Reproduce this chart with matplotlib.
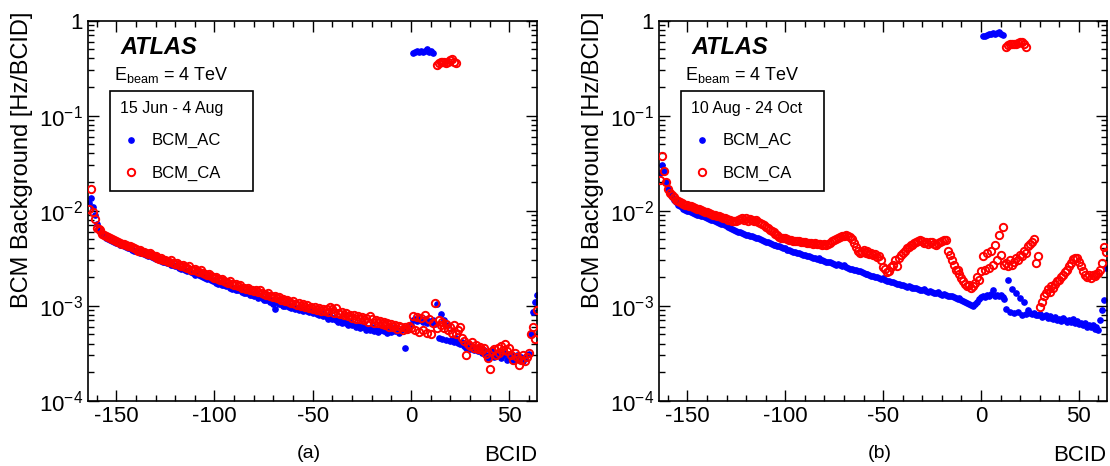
import numpy as np
import matplotlib
matplotlib.use("Agg")
import matplotlib.pyplot as plt
from matplotlib.lines import Line2D
from matplotlib.ticker import MultipleLocator, FixedLocator, FixedFormatter, LogLocator, NullFormatter

plt.rcParams['font.family'] = ['Liberation Sans', 'DejaVu Sans']
plt.rcParams['mathtext.fontset'] = 'custom'
plt.rcParams['mathtext.rm'] = 'Liberation Sans'
plt.rcParams['mathtext.it'] = 'Liberation Sans:italic'
plt.rcParams['mathtext.bf'] = 'Liberation Sans:bold'
plt.rcParams['axes.unicode_minus'] = False

# BCID axis, one entry per bunch crossing from -164 to 64
bcid = np.arange(-164, 65)

# background rates in units of 1e-4 Hz/BCID
# (a) 15 Jun - 4 Aug
ac_a = [120, 135, 110, 90, 72, 64, 60, 57, 54, 52,
        50, 49, 48.5, 47, 46, 45.5, 44, 43, 42.5, 41,
        40.5, 40, 39, 38, 37.5, 38, 36, 35.5, 35, 34,
        33.5, 34, 32.5, 32, 31, 31.5, 30, 29.5, 29, 28.5,
        28, 28.5, 27, 26.5, 26, 26.5, 25, 24.5, 25, 24,
        23, 23.5, 22.5, 22, 21, 22, 21, 20.5, 20, 19.5,
        19, 20, 18.5, 18, 18.5, 17.5, 17, 17.5, 16.5, 16.5,
        16, 16.5, 15.5, 15, 15.5, 14.5, 14.5, 15, 14, 13.5,
        13.5, 14, 13, 13, 12.5, 13, 12, 12.5, 12, 11.5,
        11.5, 12, 11, 11.5, 10.5, 9.3, 11, 10.5, 10.5, 10,
        10, 10.5, 9.7, 9.5, 10, 9.2, 9.5, 9, 9.3, 8.8,
        9, 8.7, 8.5, 9, 8.3, 8.5, 8.2, 8, 8.3, 7.8,
        7.9, 7.6, 7.3, 7.8, 7.2, 7.4, 7, 6.8, 7.2, 6.6,
        6.8, 6.5, 6.3, 6.7, 6.2, 6.4, 6, 6.3, 5.8, 5.9,
        6.1, 5.6, 5.8, 5.5, 5.9, 5.4, 5.7, 5.3, 5.6, 5.5,
        5.4, 5.7, 5.2, 5.6, 5.3, 5.8, 5.4, 5.5, 5.2, 5.6,
        5.8, 3.6, 5.5, 5.9, 6.2, 7.0, 7.3, 6.9, 7.4, 7.1,
        6.8, 7.2, 6.6, 6.9, 6.5, 7.0, 6.4, 10.4, 4.6, 8.2,
        4.5, 7.0, 4.4, 6.2, 4.3, 4.5, 4.2, 4.6, 4.1, 4.0,
        4.2, 3.8, 3.6, 4.0, 3.5, 3.7, 3.4, 3.6, 3.3, 3.5,
        3.2, 3.4, 3.0, 2.8, 3.1, 3.3, 2.9, 3.2, 3.0, 3.1,
        2.8, 3.0, 3.2, 2.7, 2.9, 3.1, 2.6, 2.8, 3.0, 2.7,
        2.9, 2.6, 2.8, 3.0, 3.1, 5.0, 8.5, 11.0, 13.0]
ca_a = [105, 170, 97, 82, 66, 64, 62, 57, 55, 54,
        53, 51, 50, 49, 48, 47, 46, 45, 44.5, 43,
        42, 42.5, 41, 40, 39.5, 38, 39, 37, 36.5, 36,
        35, 35.5, 34, 33, 33.5, 32, 31, 31.5, 30.5, 30,
        29.5, 29, 30, 28, 27.5, 28, 27, 26, 26.5, 25.5,
        25, 26, 24, 23.5, 24.5, 23, 22.5, 23.5, 22, 21.5,
        21, 21.5, 20.5, 20, 19.5, 20, 19, 18.5, 19, 18,
        17.8, 17.5, 18, 17, 16.5, 17, 16, 16.5, 15.5, 15.5,
        15, 15.5, 14.5, 14.8, 14.2, 14.6, 13.8, 14.5, 13.5, 13.2,
        13, 13.5, 12.5, 12.8, 12.2, 12.6, 12, 12.3, 11.5, 11.8,
        11.2, 11.5, 11, 10.8, 11.2, 10.5, 10.2, 10.6, 10, 10.4,
        9.8, 10.2, 9.5, 9.7, 9.3, 9.6, 9.1, 9.4, 8.9, 9.2,
        8.8, 9.2, 8.6, 9.6, 9.3, 8.4, 9.5, 8.3, 8.1, 8.5,
        7.9, 8.3, 7.7, 8.0, 7.5, 7.9, 7.3, 7.8, 7.2, 7.6,
        7.0, 7.5, 6.8, 7.8, 7.3, 6.6, 7.1, 6.5, 6.9, 6.4,
        6.7, 6.2, 6.6, 6.0, 6.4, 5.9, 6.3, 5.7, 6.1, 5.9,
        5.6, 6.0, 5.7, 6.1, 5.8, 7.8, 5.5, 7.6, 5.3, 7.4,
        5.6, 8.0, 5.2, 7.2, 5.0, 6.5, 10.8, 5.8, 7.0, 6.2,
        6.8, 5.8, 6.4, 5.5, 6.0, 5.2, 6.3, 5.0, 5.5, 6.0,
        4.6, 4.3, 3.0, 4.0, 3.8, 4.2, 3.6, 3.9, 3.5, 3.7,
        3.4, 3.6, 3.1, 2.8, 2.15, 3.3, 3.5, 3.0, 3.6, 3.2,
        3.8, 3.4, 4.0, 3.3, 3.6, 3.0, 2.7, 3.2, 2.9, 2.4,
        2.7, 3.0, 2.6, 2.9, 3.2, 5.0, 6.0, 4.5, 9.0]

# (b) 10 Aug - 24 Oct
ac_b = [250, 300, 260, 200, 170, 155, 140, 130, 122, 115,
        112, 108, 105, 102, 100, 98, 96, 95, 93, 91,
        90, 88, 87, 85, 84, 82, 80, 79, 77, 76,
        75, 73, 72, 70, 69, 67, 66, 64, 63, 61,
        60, 59, 58, 57, 56, 55, 54.5, 53.5, 52.5, 51.5,
        51, 50, 49, 48, 47, 46.5, 45.5, 45, 44, 43,
        42.5, 42, 41, 40.5, 40, 39, 38.5, 38, 37, 36.5,
        36, 35.5, 35, 34.5, 34, 33.5, 33, 32.5, 32, 31.5,
        31, 31.5, 30.5, 30, 29.5, 29, 28.5, 28.5, 28, 27.5,
        27, 27.5, 26.5, 26, 26.5, 25.5, 25, 24.5, 24.5, 24,
        23.5, 23, 23, 22.5, 22, 21.5, 21.5, 21, 20.5, 20.5,
        20, 19.8, 19.5, 19.2, 19.5, 18.8, 18.4, 18.0, 17.6, 17.8,
        17.3, 17.0, 16.8, 16.5, 16.6, 16.2, 15.9, 16.1, 15.7, 15.4,
        15.2, 15.5, 15.0, 14.8, 14.6, 14.9, 14.3, 14.1, 14.4, 13.9,
        13.7, 13.5, 13.8, 13.3, 13.1, 13.4, 12.9, 12.7, 12.5, 12.8,
        12.3, 12.1, 11.8, 12.0, 11.5, 11.3, 11.0, 10.8, 10.5, 10.2,
        10.0, 10.4, 11.0, 11.8, 12.2, 12.8, 12.4, 13.0, 12.6, 13.2,
        14.5, 12.8, 13.1, 12.5, 13.0, 12.2, 11.8, 9.2, 18.8, 8.5,
        15.0, 8.3, 13.5, 8.6, 12.0, 8.0, 11.0, 8.2, 9.0, 8.3,
        8.1, 8.4, 7.9, 8.0, 8.2, 7.6, 7.8, 8.0, 7.4, 7.7,
        7.5, 7.2, 7.6, 7.0, 7.3, 6.9, 7.4, 7.1, 6.8, 7.0,
        6.7, 7.2, 6.5, 6.9, 6.4, 6.6, 6.2, 6.5, 6.0, 6.3,
        5.9, 6.2, 5.7, 6.0, 5.6, 7.0, 9.0, 11.5, 25.0]
ca_b = [210, 380, 260, 200, 170, 155, 145, 138, 130, 125,
        122, 120, 118, 116, 115, 113, 111, 109, 107, 105,
        103, 101, 99, 97, 96, 95, 93, 91, 90, 88,
        87, 86, 84, 83, 82, 80, 79, 78, 77, 78,
        80, 82, 84, 80, 83, 78, 81, 79, 77, 79,
        76, 74, 72, 70, 67, 65, 62, 61, 59, 57,
        55, 53, 52, 51.5, 51, 50, 49.5, 49, 48, 48.5,
        47.5, 48, 47, 46.5, 47, 46, 45.5, 46, 45, 45.5,
        45, 44.5, 45, 44, 44.5, 44, 45, 46, 47.5, 49,
        50, 51.5, 52.5, 53.5, 54, 55, 54, 52.5, 50, 46,
        41, 38, 36, 37, 38.5, 36, 37.5, 35, 36, 34,
        35, 32.5, 33, 30, 25.6, 24.5, 22.5, 23, 25.5, 27,
        30, 26, 32, 34, 36, 38, 40, 41.5, 43, 43.5,
        45.5, 47, 48.5, 49, 47.5, 46, 47, 45, 46.5, 47,
        45, 44, 46, 47, 48.5, 49, 49.5, 38, 34, 30,
        27, 24, 23.5, 21.5, 19.5, 18, 17, 16, 16.5, 15.5,
        16, 17.5, 20, 18.5, 23, 33, 24, 36, 25, 38,
        27, 44, 30, 55, 34, 68, 27, 28, 26, 30,
        27, 29, 32, 30, 34, 33, 38, 36, 42, 45,
        47, 50, 28, 33, 9.7, 11, 12.5, 13.5, 15, 14,
        16, 15.5, 17, 18, 18.5, 20, 21, 22.5, 24, 26,
        28, 31, 32, 31.5, 29, 26, 23, 21, 20, 21,
        19.5, 21, 20.5, 21.5, 22, 24, 28, 41, 37]

# colliding-bunch region, Hz/BCID
ac_top_x = np.arange(1, 12)
ac_top_a = [0.45, 0.47, 0.48, 0.47, 0.48, 0.47, 0.48, 0.50, 0.47, 0.48, 0.46]
ac_top_b = [0.68, 0.69, 0.71, 0.72, 0.72, 0.73, 0.72, 0.74, 0.75, 0.72, 0.70]
ca_top_x = np.arange(13, 24)
ca_top_a = [0.34, 0.36, 0.37, 0.37, 0.37, 0.36, 0.37, 0.38, 0.39, 0.37, 0.36]
ca_top_b = [0.53, 0.55, 0.56, 0.57, 0.57, 0.57, 0.58, 0.59, 0.60, 0.56, 0.53]

panels = [
    (ac_a, ca_a, ac_top_a, ca_top_a, '15 Jun - 4 Aug', '(a)'),
    (ac_b, ca_b, ac_top_b, ca_top_b, '10 Aug - 24 Oct', '(b)'),
]

fig = plt.figure(figsize=(11.1, 4.66), dpi=100)
axes = [fig.add_axes([0.079, 0.140, 0.405, 0.816]),
        fig.add_axes([0.5937, 0.140, 0.4033, 0.816])]

blue = '#0000ff'
red = '#ff0000'

for ax, (ac, ca, ac_top, ca_top, period, tag) in zip(axes, panels):
    ac = np.array(ac) * 1e-4
    ca = np.array(ca) * 1e-4
    x_ac = np.concatenate([bcid, ac_top_x])
    y_ac = np.concatenate([ac, ac_top])
    x_ca = np.concatenate([bcid, ca_top_x])
    y_ca = np.concatenate([ca, ca_top])

    ax.errorbar(x_ac, y_ac, xerr=0.6, fmt='o', color=blue, ms=3.8,
                elinewidth=1.6, capsize=0, zorder=2)
    ax.plot(x_ca, y_ca, 'o', mfc='none', mec=red, ms=5.3, mew=1.4, zorder=3)

    ax.set_yscale('log')
    ax.set_xlim(-164.5, 64.2)
    ax.set_ylim(1e-4, 1)

    ax.xaxis.set_major_locator(MultipleLocator(50))
    ax.xaxis.set_minor_locator(MultipleLocator(10))
    ax.yaxis.set_major_locator(FixedLocator([1e-4, 1e-3, 1e-2, 1e-1, 1]))
    ax.yaxis.set_major_formatter(FixedFormatter(
        [r'$\mathregular{10^{-4}}$', r'$\mathregular{10^{-3}}$',
         r'$\mathregular{10^{-2}}$', r'$\mathregular{10^{-1}}$', '1']))
    ax.yaxis.set_minor_locator(LogLocator(base=10, subs=np.arange(2, 10), numticks=20))
    ax.yaxis.set_minor_formatter(NullFormatter())
    ax.tick_params(which='both', direction='in', top=True, right=True,
                   labelsize=16, width=1.0, color='black')
    ax.tick_params(which='major', length=8)
    ax.tick_params(which='minor', length=4.5)
    for sp in ax.spines.values():
        sp.set_linewidth(1.2)

    ax.set_ylabel('BCM Background [Hz/BCID]', fontsize=17)
    ax.yaxis.set_label_coords(-0.122, 0.633)

    ax.text(0.072, 0.928, 'ATLAS', transform=ax.transAxes, fontsize=17,
            fontweight='bold', fontstyle='italic', va='center', ha='left')
    ax.text(0.059, 0.857, r'E$_{\mathregular{beam}}$ = 4 TeV', transform=ax.transAxes,
            fontsize=13, va='center', ha='left')

    handles = [Line2D([], [], ls='none', marker='o', color=blue, ms=3.8),
               Line2D([], [], ls='none', marker='o', mfc='none', mec=red, ms=5.3, mew=1.4)]
    leg = ax.legend(handles, ['BCM_AC', 'BCM_CA'], title=period,
                    loc='upper left', bbox_to_anchor=(0.0496, 0.559, 0.318, 0.256),
                    mode='expand', borderaxespad=0, fancybox=False, framealpha=1,
                    edgecolor='black', fontsize=12, title_fontsize=11.5,
                    alignment='left', borderpad=0.6, labelspacing=1.05,
                    handlelength=1.3, handletextpad=0.6, numpoints=1)
    leg.get_frame().set_linewidth(1.2)

    ax.text(0.492, -0.138, tag, transform=ax.transAxes, fontsize=14,
            ha='center', va='center')
    ax.text(1.0, -0.143, 'BCID', transform=ax.transAxes, fontsize=16,
            ha='right', va='center')

fig.savefig('out.png', dpi=100)
